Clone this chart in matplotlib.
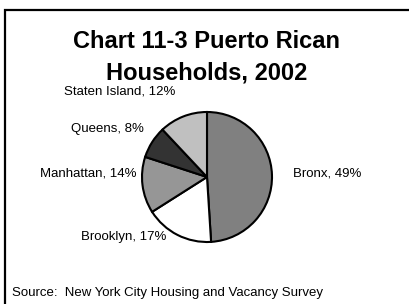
import matplotlib
matplotlib.use("Agg")
import matplotlib.pyplot as plt
from matplotlib.patches import Rectangle

# data
boroughs = ["Bronx", "Brooklyn", "Manhattan", "Queens", "Staten Island"]
shares = [49, 17, 14, 8, 12]
colors = ["#808080", "#ffffff", "#969696", "#333333", "#c0c0c0"]

# label anchors (pie units, radius 1) and alignment, as Excel placed them
label_pos = [(1.32, 0.06), (-0.62, -0.92), (-1.08, 0.06), (-0.97, 0.74), (-0.48, 1.32)]
label_ha = ["left", "right", "right", "right", "right"]

plt.rcParams["font.family"] = ["Liberation Sans", "DejaVu Sans"]

W, H = 409, 304
fig = plt.figure(figsize=(W / 100, H / 100), dpi=100)

# outer frame, clipped at right and bottom
fig.patches.append(Rectangle((5 / W, -0.1), 1.2, (H - 10) / H + 0.1,
                             transform=fig.transFigure, fill=False,
                             edgecolor="black", linewidth=1.6))

fig.text(207 / W, 1 - 57 / H, "Chart 11-3 Puerto Rican\nHouseholds, 2002",
         ha="center", va="center", fontsize=17, fontweight="bold",
         linespacing=1.5)

# pie axes: centre (207, 177) px, radius 65 px
r = 65
ax = fig.add_axes([(207 - r) / W, (H - 177 - r) / H, 2 * r / W, 2 * r / H])
ax.pie(shares, colors=colors, startangle=90, counterclock=False,
       wedgeprops=dict(edgecolor="black", linewidth=1.5))
ax.set_xlim(-1, 1)
ax.set_ylim(-1, 1)
ax.set_aspect("equal")
ax.axis("off")

for name, share, (x, y), ha in zip(boroughs, shares, label_pos, label_ha):
    ax.text(x, y, f"{name}, {share}%", ha=ha, va="center", fontsize=9.5,
            clip_on=False)

fig.text(12 / W, 1 - 293 / H, "Source:  New York City Housing and Vacancy Survey",
         ha="left", va="center", fontsize=9.5)

fig.savefig("out.png", dpi=100)
